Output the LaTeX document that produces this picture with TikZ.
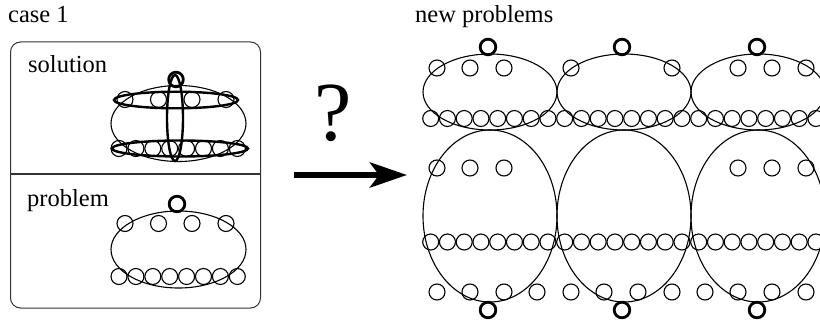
\documentclass[tikz,border=0pt]{standalone}
\usepackage{fontspec}
\setmainfont{Liberation Serif}
\usetikzlibrary{arrows.meta}

\tikzset{
  thin line/.style={line width=1.1pt},
  dot/.style={thin line, draw},
  bold dot/.style={line width=2.8pt, draw},
  bold ring/.style={line width=2.4pt, draw},
  frame/.style={line width=1pt, draw=black!80, rounded corners=10pt},
  label/.style={font=\fontsize{24.5}{25}\selectfont, anchor=base west, inner sep=0pt},
}

\begin{document}
\begin{tikzpicture}[x=1pt, y=-1pt]
  \useasboundingbox (0,0) rectangle (820,321);

  % ---------------- left panel: case 1 ----------------
  \node[label] (case) at (8,22.5) {case 1};
  \draw[frame] (10.5,42) rectangle (260.5,308);
  \draw[thin line, draw=black!80] (10.5,174) -- (260.5,174);

  \node[label] (sol) at (28,73) {solution};
  \node[label] (prob) at (27,206.5) {problem};

  % solution: problem ellipse with its dots
  \draw[thin line] (178.5,123.5) ellipse [x radius=67.5, y radius=38];
  \foreach \dx in {-53.5,-20,13.5,47.5}
    \draw[dot] (178.5+\dx,99.5) circle [radius=8];
  \foreach \k in {0,...,7}
    \draw[dot] (119+16.9*\k,148.5) circle [radius=8];
  % solution: the chosen groups
  \draw[bold dot] (176,79.5) circle [radius=7.3];
  \draw[bold ring] (175,118) ellipse [x radius=8, y radius=43];
  \draw[bold ring] (176,100) ellipse [x radius=62, y radius=8.3];
  \draw[bold ring] (180,148.5) ellipse [x radius=68, y radius=8];

  % problem
  \draw[thin line] (178.5,249.5) ellipse [x radius=67.5, y radius=38.5];
  \foreach \dx in {-53.5,-20,13.5,47.5}
    \draw[dot] (178.5+\dx,223.5) circle [radius=8];
  \foreach \k in {0,...,7}
    \draw[dot] (119+16.9*\k,276.5) circle [radius=8];
  \draw[bold dot] (177,204) circle [radius=7.8];

  % ---------------- arrow ----------------
  \node[font=\fontsize{84}{84}\selectfont, anchor=base, inner sep=0pt] (q) at (333,140) {?};
  \coordinate (arrS) at (294,175);
  \coordinate (arrE) at (407,175);
  \draw[line width=6.5pt, -{Stealth[length=37pt, width=25pt, inset=9pt]}] (arrS) -- (arrE);

  % ---------------- right panel: new problems ----------------
  \node[label] (newp) at (415,22.5) {new problems};

  % upper row of problems
  \foreach \cx in {490,624,758}
    \draw[thin line] (\cx,92) ellipse [x radius=67, y radius=38];
  \foreach \k in {0,...,23}
    \draw[dot] (430.7+16.75*\k,118.5) circle [radius=8];
  \foreach \x in {437,470,504, 571,672, 738,772,806}
    \draw[dot] (\x,68) circle [radius=8];
  \foreach \x in {488,622,757}
    \draw[bold dot] (\x,47) circle [radius=7.8];

  % lower row of problems
  \foreach \cx in {490,624,758}
    \draw[thin line] (\cx,216) ellipse [x radius=67, y radius=86];
  \foreach \x in {437,470,504, 738,772,806}
    \draw[dot] (\x,168) circle [radius=8];
  \foreach \k in {0,...,23}
    \draw[dot] (430.7+16.75*\k,242) circle [radius=8];
  \foreach \x in {437,470,504,537, 571,604,638,672, 705,738,772,806}
    \draw[dot] (\x,292) circle [radius=8];
  \foreach \x in {488,622,757}
    \draw[bold dot] (\x,310) circle [radius=7.8];
\end{tikzpicture}
\end{document}
